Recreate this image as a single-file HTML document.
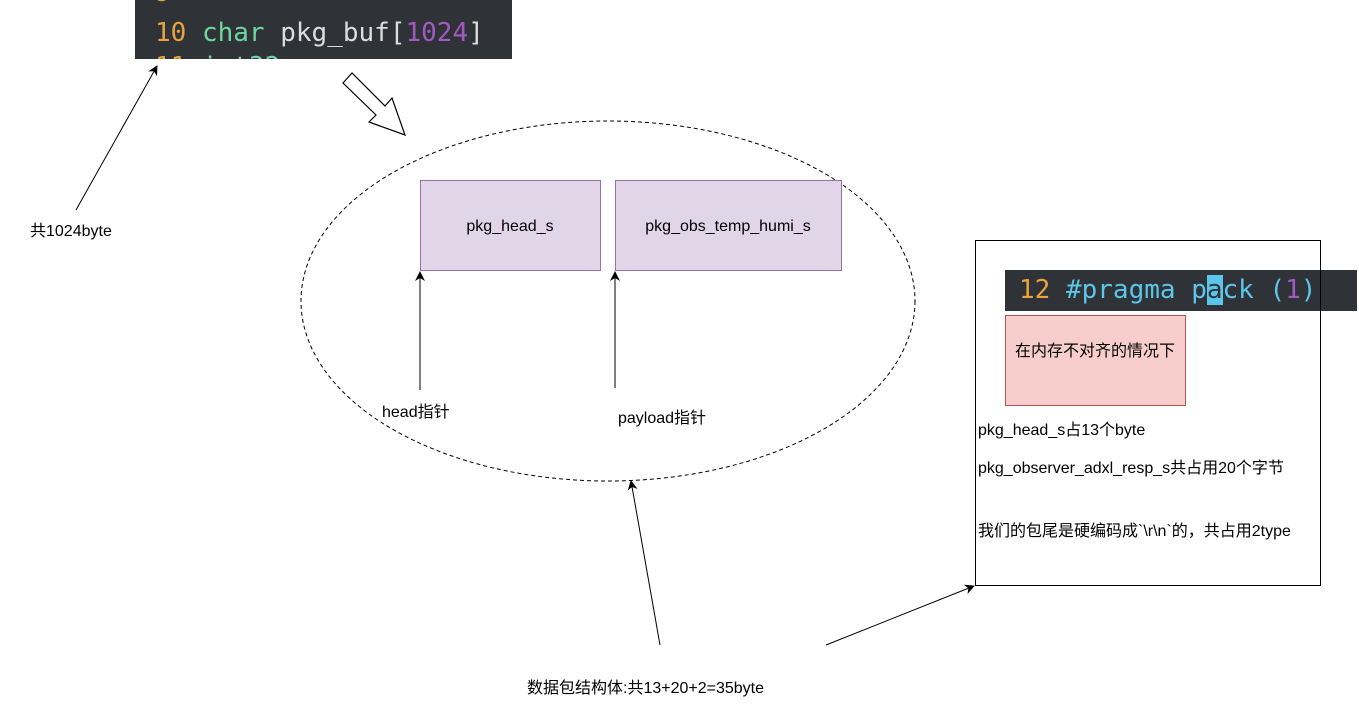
<!DOCTYPE html>
<html><head><meta charset="utf-8"><style>
body{margin:0;background:#fff;width:1359px;height:722px;overflow:hidden;position:relative;font-family:"Liberation Sans","Noto Sans CJK SC",sans-serif;}
.t{position:absolute;font-size:16px;color:#000;white-space:nowrap}
.code{position:absolute;background:#2f3337;font-family:"DejaVu Sans Mono","Liberation Mono",monospace;overflow:hidden;white-space:nowrap}
</style></head><body>
<div class="code" style="left:135px;top:0;width:377px;height:59px;font-size:26px;">
<div style="position:absolute;left:20px;top:-22px;color:#e8a33d">9</div>
<div style="position:absolute;left:20px;top:18px;"><span style="color:#e8a33d">10</span> <span style="color:#6fd6a0">char</span> <span style="color:#ddd">pkg_buf[</span><span style="color:#a25ac0">1024</span><span style="color:#ddd">]</span></div>
<div style="position:absolute;left:20px;top:52px;color:#e8a33d">11 <span style="color:#6fd6a0">int32</span></div>
</div>
<div class="code" style="left:1005px;top:270px;width:352px;height:41px;font-size:26px;">
<div style="position:absolute;left:14px;top:5px;"><span style="color:#e8a33d">12</span> <span style="color:#5bc6ea">#pragma p<span style="background:#5bc6ea;color:#2f3337">a</span>ck (</span><span style="color:#a25ac0">1</span><span style="color:#5bc6ea">)</span></div>
</div>
<svg width="1359" height="722" style="position:absolute;left:0;top:0">
<defs><marker id="a" markerWidth="10" markerHeight="10" refX="9" refY="5" orient="auto" markerUnits="userSpaceOnUse"><path d="M0,0 L10,5 L0,10 L3,5z" fill="#000"/></marker></defs>
<ellipse cx="608" cy="301" rx="307" ry="180" fill="none" stroke="#000" stroke-dasharray="4,3"/>
<rect x="420.5" y="180.5" width="180" height="90" fill="#e1d5e7" stroke="#9673a6"/>
<rect x="615.5" y="180.5" width="226" height="90" fill="#e1d5e7" stroke="#9673a6"/>
<rect x="975.5" y="240.5" width="345" height="345" fill="none" stroke="#000"/>
<rect x="1005.5" y="315.5" width="180" height="90" fill="#f8cecc" stroke="#b85450"/>
<polygon points="343,83 352,73 385,106 392,98 405,135 369,122 376,115" fill="#fff" stroke="#000" stroke-width="1.2"/>
<line x1="76" y1="210" x2="157" y2="66" stroke="#000" marker-end="url(#a)"/>
<line x1="420" y1="390" x2="420" y2="272" stroke="#000" marker-end="url(#a)"/>
<line x1="615" y1="388" x2="615" y2="272" stroke="#000" marker-end="url(#a)"/>
<line x1="660" y1="645" x2="631" y2="481" stroke="#000" marker-end="url(#a)"/>
<line x1="826" y1="645" x2="974" y2="586" stroke="#000" marker-end="url(#a)"/>
</svg>
<div class="t" style="left:30px;top:217px">共1024byte</div>
<div class="t" style="left:420px;top:218px;width:180px;text-align:center">pkg_head_s</div>
<div class="t" style="left:615px;top:218px;width:226px;text-align:center">pkg_obs_temp_humi_s</div>
<div class="t" style="left:382px;top:398px">head指针</div>
<div class="t" style="left:618px;top:404px">payload指针</div>
<div class="t" style="left:1005px;top:342px;width:180px;text-align:center;white-space:normal;line-height:19px">在内存不对齐的情况下</div>
<div class="t" style="left:978px;top:416px">pkg_head_s占13个byte</div>
<div class="t" style="left:978px;top:459px;width:335px;white-space:normal;line-height:19px">pkg_observer_adxl_resp_s共占用20个字节</div>
<div class="t" style="left:978px;top:522px;width:320px;white-space:normal;line-height:20px">我们的包尾是硬编码成`\r\n`的，共占用2type</div>
<div class="t" style="left:527px;top:674px">数据包结构体:共13+20+2=35byte</div>
</body></html>
